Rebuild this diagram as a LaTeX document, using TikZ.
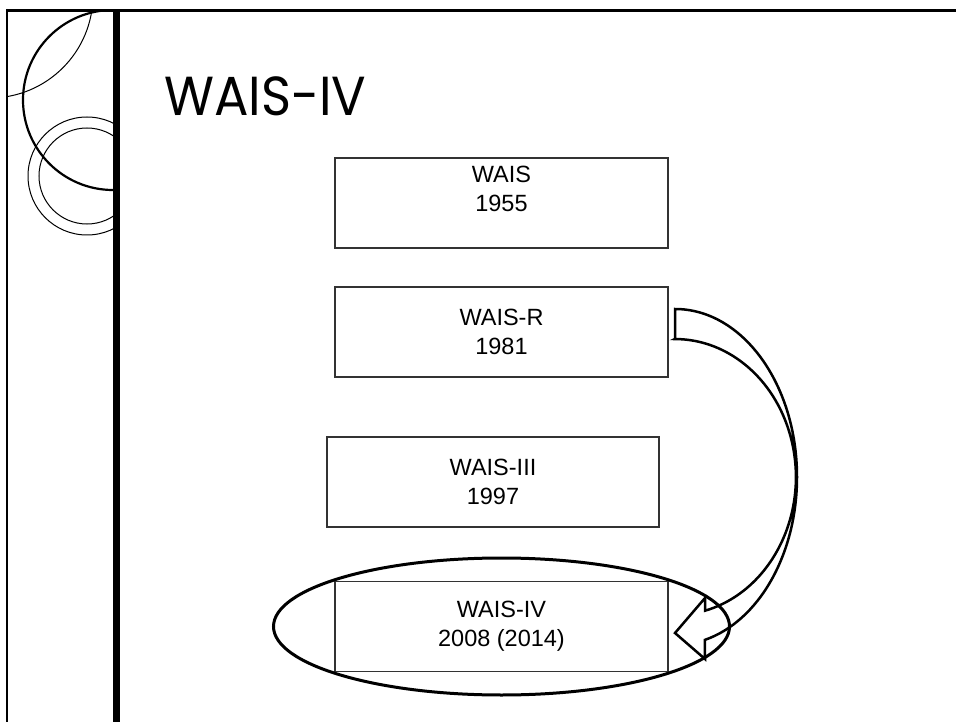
\documentclass[tikz,border=0pt]{standalone}
\usepackage{fontspec}
\setmainfont{Liberation Sans}
\newfontfamily\titlefont{Poppins}
\usetikzlibrary{shapes.geometric}
\tikzset{
  yearbox/.style={draw=black!80, line width=1.3pt, inner sep=0pt, minimum height=90pt, align=center,
    font=\fontsize{23.5}{29}\selectfont},
  deco/.style={line width=1pt},
  bigarrow/.style={draw=black, line width=2.5pt, fill=white, line join=miter},
}
\begin{document}
\begin{tikzpicture}[x=1pt,y=-1pt]
\useasboundingbox (0,0) rectangle (956,722);
% left decoration
\begin{scope}
  \clip (7,10) rectangle (114,722);
  \draw[line width=2.2pt] (113,100) circle[radius=90];
  \draw[deco] (-10,-5) circle[radius=103];
  \draw[deco] (87,176) circle[radius=59];
  \draw[deco] (87,176) circle[radius=48];
\end{scope}
\draw[line width=1.5pt] (7,9) -- (7,722);
\draw[line width=3pt] (6.25,10.5) -- (956,10.5);
\fill (113,10) rectangle (120,722);
% title
\node[anchor=base west, font=\titlefont\fontsize{55}{60}\selectfont, inner sep=0pt] (title) at (164,116) {\scalebox{0.93}[1]{WAIS-IV}};
% boxes
\node[yearbox, minimum width=333pt] (b1) at (501.5,203) {WAIS\\1955\\\mbox{}};
\node[yearbox, minimum width=333pt] (b2) at (501.5,332) {WAIS-R\\1981};
\node[yearbox, minimum width=332pt] (b3) at (493,482) {WAIS-III\\1997};
\node[yearbox, minimum width=333pt] (b4) at (501.5,626.5) {WAIS-IV\\2008 (2014)};
% curved arrow
\draw[bigarrow] (675,339) -- (675,309)
  arc[start angle=-90, end angle=75.8, x radius=122, y radius=168]
  -- (705,659) -- (675,633) -- (705,598) -- (705,610.7)
  arc[start angle=75.6, end angle=-90, x radius=121, y radius=138] -- cycle;
% highlight ellipse
\node[draw, ellipse, line width=3pt, inner sep=0pt, minimum width=456pt, minimum height=137pt] (hl) at (b4.center) {};
\end{tikzpicture}
\end{document}
